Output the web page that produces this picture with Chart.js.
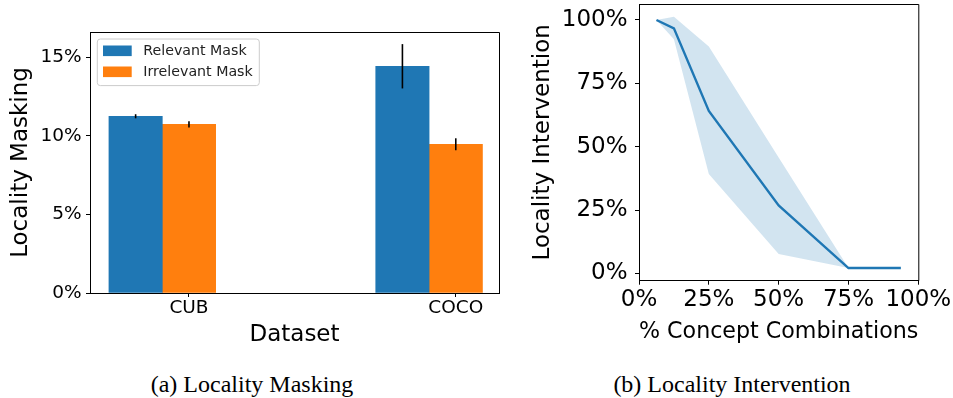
<!DOCTYPE html>
<html><head><meta charset="utf-8">
<script src="https://cdn.jsdelivr.net/npm/chart.js@4/dist/chart.umd.min.js"></script>
<style>
html,body{margin:0;padding:0;background:#fff;}
body{width:953px;height:398px;position:relative;overflow:hidden;}
canvas{position:absolute;top:0;}
#masking{left:0;}
#intervention{left:515px;}
.cap{position:absolute;top:372px;font-family:"Liberation Serif","Times New Roman",serif;font-size:24px;line-height:24px;white-space:nowrap;transform:translateX(-50%);color:#000;}
</style></head>
<body>
<canvas id="masking" width="510" height="360"></canvas>
<canvas id="intervention" width="438" height="360"></canvas>
<div class="cap" style="left:252px">(a) Locality Masking</div>
<div class="cap" style="left:732px">(b) Locality Intervention</div>
<script>
// Locality masking per dataset (percent) with error bars
const datasetNames = ['CUB', 'COCO'];
const relevantMask = [11.24, 14.42];
const relevantErr = [0.13, 1.41];
const irrelevantMask = [10.73, 9.46];
const irrelevantErr = [0.2, 0.38];
const maskingTicks = [0, 5, 10, 15];

// Locality intervention against share of concept combinations (percent)
const combinations = [6.25, 12.5, 25, 50, 75, 93.75];
const interventionMean = [100, 96.7, 64.1, 26.8, 2.1, 2.1];
const interventionLow = [100, 92.4, 39.2, 7.6, 2.1, 2.1];
const interventionHigh = [100, 101.3, 89.5, 45.7, 2.1, 2.1];
const combinationTicks = [0, 25, 50, 75, 100];
const interventionTicks = [0, 25, 50, 75, 100];

const BLUE = '#1f77b4';
const ORANGE = '#ff7f0e';
Chart.defaults.font.family = '"DejaVu Sans", sans-serif';
Chart.defaults.color = '#000';
Chart.defaults.animation = false;

function fixWidth(w) {
  return (s) => { s.width = w; s.paddingTop = 0; s.paddingBottom = 0; s.paddingLeft = 0; s.paddingRight = 0; };
}
function fixHeight(h) {
  return (s) => { s.height = h; s.paddingTop = 0; s.paddingBottom = 0; s.paddingLeft = 0; s.paddingRight = 0; };
}

// top and right spines
const frame = {
  id: 'frame',
  afterDraw(chart) {
    const {ctx, chartArea: a} = chart;
    ctx.save();
    ctx.strokeStyle = '#000';
    ctx.lineWidth = 1;
    ctx.beginPath();
    ctx.moveTo(a.left, a.top + 0.5);
    ctx.lineTo(a.right + 0.5, a.top + 0.5);
    ctx.lineTo(a.right + 0.5, a.bottom);
    ctx.stroke();
    ctx.restore();
  }
};

// vertical error bars on top of each bar
const errorBars = {
  id: 'errorBars',
  afterDatasetsDraw(chart) {
    const {ctx, scales: {y}} = chart;
    ctx.save();
    ctx.strokeStyle = '#000';
    ctx.lineWidth = 1.6;
    chart.data.datasets.forEach((ds, di) => {
      const meta = chart.getDatasetMeta(di);
      meta.data.forEach((bar, i) => {
        const v = ds.data[i].y, e = ds.errors[i];
        ctx.beginPath();
        ctx.moveTo(bar.x, y.getPixelForValue(v - e));
        ctx.lineTo(bar.x, y.getPixelForValue(v + e));
        ctx.stroke();
      });
    });
    ctx.restore();
  }
};

// framed legend in the upper left of the plot
const boxLegend = {
  id: 'boxLegend',
  afterDraw(chart) {
    const {ctx, chartArea: a} = chart;
    const x0 = a.left + 7.3, y0 = a.top + 7, w = 162, h = 46.6, r = 3;
    ctx.save();
    ctx.fillStyle = 'rgba(255,255,255,0.8)';
    ctx.strokeStyle = '#cccccc';
    ctx.lineWidth = 1;
    ctx.beginPath();
    ctx.roundRect(x0, y0, w, h, r);
    ctx.fill();
    ctx.stroke();
    ctx.font = '14.2px "DejaVu Sans", sans-serif';
    ctx.textBaseline = 'middle';
    chart.data.datasets.forEach((ds, i) => {
      const cy = y0 + 11.8 + i * 21;
      ctx.fillStyle = ds.backgroundColor;
      ctx.fillRect(x0 + 5.7, cy - 5.3, 28.7, 10.6);
      ctx.fillStyle = '#222';
      ctx.fillText(ds.label, x0 + 46, cy + 0.5);
    });
    ctx.restore();
  }
};

const barOffset = 0.2; // relevant bar sits one bar width left of the tick
new Chart(document.getElementById('masking'), {
  type: 'bar',
  data: {
    datasets: [
      { label: 'Relevant Mask', backgroundColor: BLUE,
        data: datasetNames.map((n, i) => ({x: i - barOffset, y: relevantMask[i]})), errors: relevantErr },
      { label: 'Irrelevant Mask', backgroundColor: ORANGE,
        data: datasetNames.map((n, i) => ({x: i, y: irrelevantMask[i]})), errors: irrelevantErr }
    ]
  },
  options: {
    responsive: false,
    grouped: false,
    barPercentage: 1,
    categoryPercentage: 1,
    layout: { padding: { top: 32, right: 11, left: 0, bottom: 0 } },
    plugins: { legend: { display: false }, tooltip: { enabled: false } },
    scales: {
      x: {
        type: 'linear', min: -0.371, max: 1.162, offset: false,
        afterBuildTicks: (s) => { s.ticks = datasetNames.map((n, i) => ({value: i})); },
        afterFit: fixHeight(67),
        ticks: { callback: (v, i) => datasetNames[i], font: { size: 18.5 }, padding: 0, maxRotation: 0, color: '#000' },
        grid: { offset: false, drawOnChartArea: false, tickLength: 4, tickColor: '#000', tickWidth: 1 },
        border: { color: '#000', width: 1 },
        title: { display: true, text: 'Dataset', font: { size: 23 }, padding: { top: 0, bottom: 11.2 }, color: '#000' }
      },
      y: {
        min: 0, max: 16.6,
        afterBuildTicks: (s) => { s.ticks = maskingTicks.map(v => ({value: v})); },
        afterFit: fixWidth(90),
        ticks: { callback: (v) => v + '%', font: { size: 18.5 }, padding: 4.5, color: '#000' },
        grid: { drawOnChartArea: false, tickLength: 4, tickColor: '#000', tickWidth: 1 },
        border: { color: '#000', width: 1 },
        title: { display: true, text: 'Locality Masking', font: { size: 23 }, padding: { top: 6.9, bottom: 0 }, color: '#000' }
      }
    }
  },
  plugins: [frame, errorBars, boxLegend]
});

new Chart(document.getElementById('intervention'), {
  type: 'line',
  data: {
    datasets: [
      { label: 'mean', data: combinations.map((x, i) => ({x, y: interventionMean[i]})),
        borderColor: BLUE, borderWidth: 2.4, pointRadius: 0, fill: false, tension: 0 },
      { label: 'low', data: combinations.map((x, i) => ({x, y: interventionLow[i]})),
        borderWidth: 0, borderColor: 'rgba(0,0,0,0)', pointRadius: 0, fill: false, tension: 0 },
      { label: 'high', data: combinations.map((x, i) => ({x, y: interventionHigh[i]})),
        borderWidth: 0, borderColor: 'rgba(0,0,0,0)', pointRadius: 0, tension: 0,
        fill: 1, backgroundColor: 'rgba(31,119,180,0.2)' }
    ]
  },
  options: {
    responsive: false,
    layout: { padding: { top: 4, right: 34.7, left: 0, bottom: 0 } },
    plugins: { legend: { display: false }, tooltip: { enabled: false } },
    scales: {
      x: {
        type: 'linear', min: 0, max: 100,
        afterBuildTicks: (s) => { s.ticks = combinationTicks.map(v => ({value: v})); },
        afterFit: fixHeight(79.3),
        ticks: { callback: (v) => v + '%', font: { size: 23 }, padding: 1.5, maxRotation: 0, color: '#000' },
        grid: { drawOnChartArea: false, tickLength: 4, tickColor: '#000', tickWidth: 1 },
        border: { color: '#000', width: 1 },
        title: { display: true, text: '% Concept Combinations', font: { size: 23 }, padding: { top: 0, bottom: 14 }, color: '#000' }
      },
      y: {
        type: 'linear', min: -2.9, max: 106.3,
        afterBuildTicks: (s) => { s.ticks = interventionTicks.map(v => ({value: v})); },
        afterFit: fixWidth(124),
        ticks: { callback: (v) => v + '%', font: { size: 23 }, padding: 7.5, color: '#000' },
        grid: { drawOnChartArea: false, tickLength: 4, tickColor: '#000', tickWidth: 1 },
        border: { color: '#000', width: 1 },
        title: { display: true, text: 'Locality Intervention', font: { size: 23 }, padding: { top: 14, bottom: 0 }, color: '#000' }
      }
    }
  },
  plugins: [frame]
});
</script>
</body></html>
